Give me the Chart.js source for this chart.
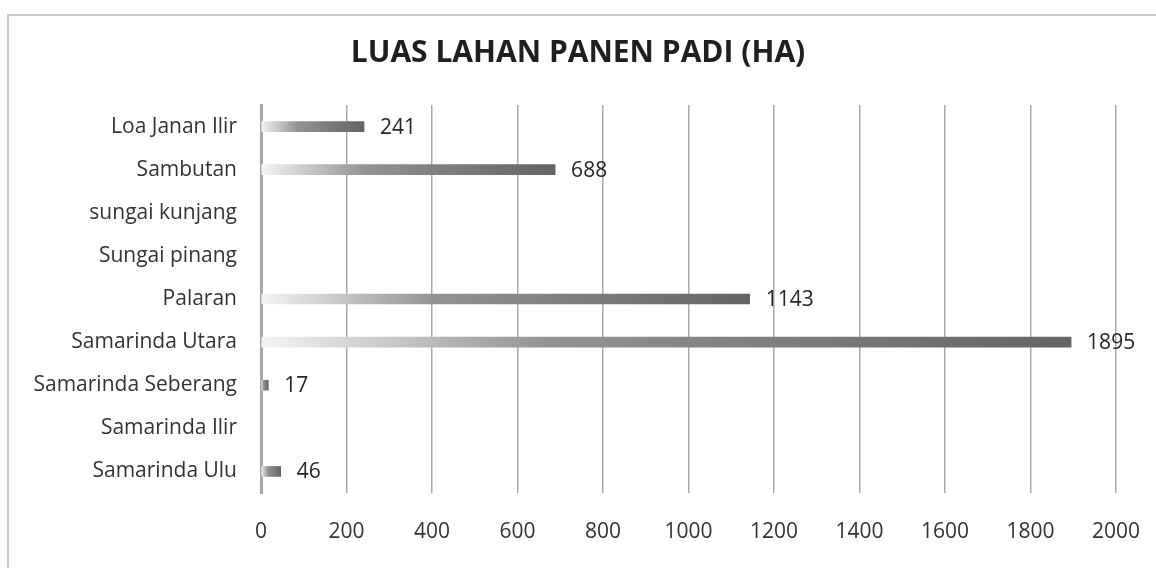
<!DOCTYPE html>
<html>
<head>
<meta charset="utf-8">
<script src="https://cdn.jsdelivr.net/npm/chart.js@4.4.0/dist/chart.umd.min.js"></script>
<style>
  html, body { margin: 0; padding: 0; background: #fff; overflow: hidden; }
  #frame { position: absolute; left: 7px; top: 14px; width: 1200px; height: 600px; border: 2px solid #c9c9c9; }
  #chart { position: absolute; left: 0; top: 0; }
</style>
</head>
<body>
<div id="frame"></div>
<canvas id="chart" width="1156" height="568"></canvas>
<script>
const kecamatan = [
  "Loa Janan Ilir",
  "Sambutan",
  "sungai kunjang",
  "Sungai pinang",
  "Palaran",
  "Samarinda Utara",
  "Samarinda Seberang",
  "Samarinda Ilir",
  "Samarinda Ulu"
];
const luasPanen = [241, 688, null, null, 1143, 1895, 17, null, 46];
const xTicks = [0, 200, 400, 600, 800, 1000, 1200, 1400, 1600, 1800, 2000];

const FONT = "'Open Sans', sans-serif";

function barFill(context) {
  const chart = context.chart;
  const v = context.raw;
  const x = chart.scales.x;
  if (!chart.chartArea || !x || v == null) return "#6a6a6a";
  const x0 = x.getPixelForValue(0);
  const x1 = x.getPixelForValue(v);
  if (x1 - x0 < 1) return "#6a6a6a";
  const g = chart.ctx.createLinearGradient(x0, 0, x1, 0);
  g.addColorStop(0, "#f4f4f4");
  g.addColorStop(0.35, "#939393");
  g.addColorStop(1, "#646464");
  return g;
}

// angka di ujung batang
const valueLabels = {
  id: "valueLabels",
  afterDatasetsDraw(chart) {
    const ctx = chart.ctx;
    const meta = chart.getDatasetMeta(0);
    ctx.save();
    ctx.font = "21px " + FONT;
    ctx.fillStyle = "#262626";
    ctx.textAlign = "left";
    ctx.textBaseline = "middle";
    meta.data.forEach(function (bar, i) {
      const v = luasPanen[i];
      if (v == null) return;
      ctx.fillText(String(v), bar.x + 16, bar.y + 1);
    });
    ctx.restore();
  }
};

new Chart(document.getElementById("chart"), {
  type: "bar",
  data: {
    labels: kecamatan,
    datasets: [{
      data: luasPanen,
      backgroundColor: barFill,
      barThickness: 10
    }]
  },
  options: {
    indexAxis: "y",
    responsive: false,
    animation: false,
    layout: { padding: { left: 30, right: 30, top: 0, bottom: 0 } },
    plugins: {
      legend: { display: false },
      tooltip: { enabled: false },
      title: {
        display: true,
        text: "LUAS LAHAN PANEN PADI (HA)",
        color: "#1f1f1f",
        font: { family: FONT, size: 30, weight: "bold" },
        padding: { top: 35, bottom: 34 }
      }
    },
    scales: {
      x: {
        min: 0,
        max: 2000,
        afterBuildTicks: function (scale) {
          scale.ticks = xTicks.map(function (v) { return { value: v }; });
        },
        afterFit: function (scale) {
          scale.height = 75;
          scale.paddingLeft = 0;
          scale.paddingRight = 40;
        },
        grid: { color: "#a9a9a9", lineWidth: 1.5, drawTicks: false },
        border: { display: false },
        ticks: {
          color: "#333",
          padding: 26,
          font: { family: FONT, size: 21 },
          callback: function (v) { return String(v); }
        }
      },
      y: {
        afterFit: function (scale) { scale.width = 231; },
        grid: { display: false },
        border: { display: true, color: "#a6a6a6", width: 3 },
        ticks: { color: "#333", padding: 16, font: { family: FONT, size: 21 } }
      }
    }
  },
  plugins: [valueLabels]
});
</script>
</body>
</html>
